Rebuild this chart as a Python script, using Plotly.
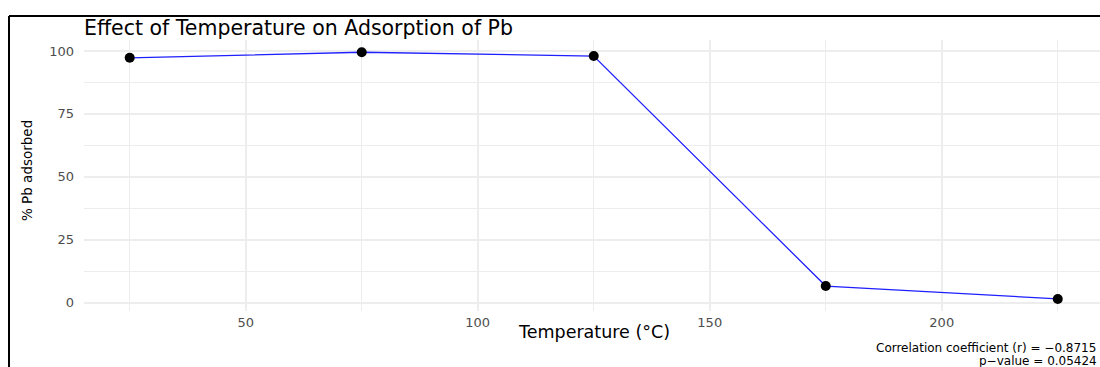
import plotly.graph_objects as go

# Adsorption of Pb at each temperature
temperature_c = [25, 75, 125, 175, 225]
pb_adsorbed_pct = [97.3, 99.5, 98.0, 6.6, 1.5]

x_major_ticks = [50, 100, 150, 200]
x_minor_ticks = [25, 75, 125, 175, 225]
y_major_ticks = [0, 25, 50, 75, 100]
y_minor_ticks = [12.5, 37.5, 62.5, 87.5]

title_text = "Effect of Temperature on Adsorption of Pb"
x_title = "Temperature (°C)"
y_title = "% Pb adsorbed"
caption_lines = ["Correlation coefficient (r) = \u22120.8715", "p\u2212value = 0.05424"]

W, H = 1100, 367
ML, MR, MT, MB = 84, 0, 40, 56
PW, PH = W - ML - MR, H - MT - MB


def px_x(px):
    return (px - ML) / PW


def px_y(py):
    return (H - MB - py) / PH


FONT = "DejaVu Sans"
GRID = "#ededed"

fig = go.Figure()
fig.add_trace(go.Scatter(
    x=temperature_c, y=pb_adsorbed_pct, mode="lines+markers",
    line=dict(color="#1f1fff", width=1.3),
    marker=dict(color="black", size=10),
    showlegend=False, hoverinfo="x+y",
))

fig.update_layout(
    width=W, height=H,
    margin=dict(l=ML, r=MR, t=MT, b=MB, pad=0),
    paper_bgcolor="white", plot_bgcolor="white",
    font=dict(family=FONT, color="#4d4d4d", size=13),
    xaxis=dict(
        range=[15.15, 234.1], tickvals=x_major_ticks, ticktext=[str(v) for v in x_major_ticks],
        showgrid=True, gridcolor=GRID, gridwidth=1.6, zeroline=False, showline=False,
        ticks="", ticklabelstandoff=2, tickfont=dict(size=13, color="#4d4d4d"),
        minor=dict(tickvals=x_minor_ticks, showgrid=True, gridcolor=GRID, gridwidth=1, ticks=""),
    ),
    yaxis=dict(
        range=[-3.3, 104.37], tickvals=y_major_ticks, ticktext=[str(v) for v in y_major_ticks],
        showgrid=True, gridcolor=GRID, gridwidth=1.6, zeroline=False, showline=False,
        ticks="", ticklabelstandoff=9, tickfont=dict(size=13, color="#4d4d4d"),
        minor=dict(tickvals=y_minor_ticks, showgrid=True, gridcolor=GRID, gridwidth=1, ticks=""),
    ),
    shapes=[
        dict(type="line", xref="paper", yref="paper", x0=px_x(9), x1=px_x(1102),
             y0=px_y(16), y1=px_y(16), line=dict(color="black", width=2)),
        dict(type="line", xref="paper", yref="paper", x0=px_x(9), x1=px_x(9),
             y0=px_y(16), y1=px_y(370), line=dict(color="black", width=2)),
    ],
    annotations=[
        dict(text=title_text, xref="paper", yref="paper", x=px_x(82), y=px_y(28),
             xanchor="left", yanchor="middle", showarrow=False,
             font=dict(family=FONT, size=20.5, color="black")),
        dict(text=x_title, xref="paper", yref="paper", x=px_x(594), y=px_y(332),
             xanchor="center", yanchor="middle", showarrow=False,
             font=dict(family=FONT, size=17.5, color="black")),
        dict(text=y_title, xref="paper", yref="paper", x=px_x(27), y=px_y(171),
             xanchor="center", yanchor="middle", showarrow=False, textangle=-90,
             font=dict(family=FONT, size=13.5, color="black")),
        dict(text=caption_lines[0], xref="paper", yref="paper", x=px_x(1098), y=px_y(348),
             xanchor="right", yanchor="middle", showarrow=False,
             font=dict(family=FONT, size=12, color="black")),
        dict(text=caption_lines[1], xref="paper", yref="paper", x=px_x(1099), y=px_y(361),
             xanchor="right", yanchor="middle", showarrow=False,
             font=dict(family=FONT, size=12, color="black")),
    ],
)

fig.write_html("out.html")
